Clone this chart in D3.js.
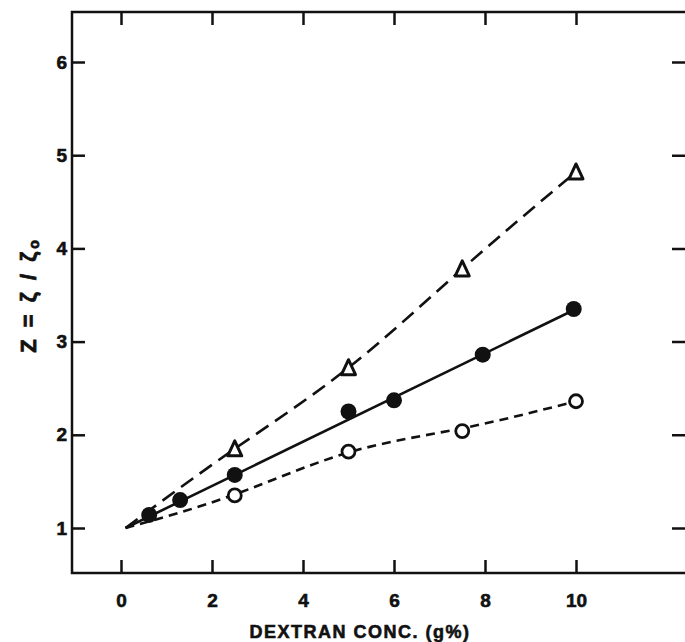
<!DOCTYPE html>
<html>
<head>
<meta charset="utf-8">
<script src="https://cdn.jsdelivr.net/npm/d3@7"></script>
<style>
  html, body { margin: 0; padding: 0; background: #fff; overflow: hidden; }
  svg { display: block; }
  text { font-family: "Liberation Sans", Arial, sans-serif; font-weight: bold; fill: #111; }
</style>
</head>
<body>
<svg id="chart" width="685" height="642"></svg>
<script>
// values
const xTicks = [0, 2, 4, 6, 8, 10];
const yTicks = [1, 2, 3, 4, 5, 6];

const triConc = [2.5, 5, 7.5, 10];
const triZ = [1.85, 2.72, 3.78, 4.82];

const filledConc = [0.62, 1.3, 2.5, 5, 6, 7.95, 9.95];
const filledZ = [1.14, 1.30, 1.57, 2.25, 2.37, 2.86, 3.35];

const openConc = [2.5, 5, 7.5, 10];
const openZ = [1.35, 1.82, 2.04, 2.36];

// drawn curves (all start from the common origin point)
const originPt = [0.1, 1.0];
const triCurve = [originPt, [2.5, 1.85], [5, 2.72], [7.5, 3.78], [10, 4.82]];
const solidFit = [originPt, [10, 3.35]];
const openCurve = [originPt, [2.5, 1.36], [5, 1.81], [7.5, 2.07], [10, 2.36]];

const svg = d3.select("#chart");
const frame = {left: 72, right: 705, top: 12, bottom: 573};

const x = d3.scaleLinear().domain([0, 10]).range([121, 576]);
const y = d3.scaleLinear().domain([1, 6]).range([528, 62]);

const ink = "#111";

// frame (right side falls off the picture)
svg.append("path")
    .attr("d", `M${frame.right},${frame.top}H${frame.left}V${frame.bottom}H${frame.right}`)
    .attr("fill", "none").attr("stroke", ink).attr("stroke-width", 2.5);

// axes with inward ticks
const tickLen = 13;
const gBottom = svg.append("g").attr("transform", `translate(0,${frame.bottom})`)
    .call(d3.axisBottom(x).tickValues(xTicks).tickFormat(d3.format("d"))
      .tickSize(-tickLen).tickPadding(tickLen + 8));
const gTop = svg.append("g").attr("transform", `translate(0,${frame.top})`)
    .call(d3.axisTop(x).tickValues(xTicks).tickSize(-tickLen).tickFormat(""));
const gLeft = svg.append("g").attr("transform", `translate(${frame.left},0)`)
    .call(d3.axisLeft(y).tickValues(yTicks).tickFormat(d3.format("d"))
      .tickSize(-tickLen).tickPadding(5));
const gRight = svg.append("g").attr("transform", `translate(${frame.right},0)`)
    .call(d3.axisRight(y).tickValues(yTicks).tickSize(-33).tickFormat(""));

[gBottom, gTop, gLeft, gRight].forEach(g => {
  g.select(".domain").remove();
  g.selectAll(".tick line").attr("stroke", ink).attr("stroke-width", 2.5);
  g.selectAll(".tick text")
      .style("font-size", "19px")
      .style("font-family", "'Liberation Sans', Arial, sans-serif")
      .style("font-weight", "bold")
      .attr("fill", ink)
      .attr("stroke", ink).attr("stroke-width", 0.6);
});

// axis titles
svg.append("text")
    .attr("x", 360).attr("y", 638)
    .attr("text-anchor", "middle")
    .attr("stroke", ink).attr("stroke-width", 0.6)
    .style("font-size", "18px")
    .style("letter-spacing", "1.5px")
    .text("DEXTRAN CONC. (g%)");

const yLab = svg.append("text")
    .attr("transform", "translate(36,295) rotate(-90)")
    .attr("text-anchor", "middle")
    .attr("stroke", ink).attr("stroke-width", 0.8)
    .style("font-size", "22px")
    .style("letter-spacing", "3px");
yLab.append("tspan").text("Z = ζ / ζ");
yLab.append("tspan").attr("dy", 3).style("font-size", "14px").text("o");

// curves
const line = d3.line().x(d => x(d[0])).y(d => y(d[1]));
const smooth = d3.line().x(d => x(d[0])).y(d => y(d[1])).curve(d3.curveNatural);

svg.append("path").attr("d", smooth(triCurve))
    .attr("fill", "none").attr("stroke", ink).attr("stroke-width", 2.6)
    .attr("stroke-dasharray", "15,8");
svg.append("path").attr("d", line(solidFit))
    .attr("fill", "none").attr("stroke", ink).attr("stroke-width", 2.6);
svg.append("path").attr("d", smooth(openCurve))
    .attr("fill", "none").attr("stroke", ink).attr("stroke-width", 2.6)
    .attr("stroke-dasharray", "9,6");

// markers
const triPts = d3.zip(triConc, triZ);
const filledPts = d3.zip(filledConc, filledZ);
const openPts = d3.zip(openConc, openZ);

svg.selectAll("path.tri").data(triPts).join("path")
    .attr("class", "tri")
    .attr("transform", d => `translate(${x(d[0])},${y(d[1])})`)
    .attr("d", "M0,-8L7,7L-7,7Z")
    .attr("fill", "#fff").attr("stroke", ink).attr("stroke-width", 3)
    .attr("stroke-linejoin", "round");

svg.selectAll("circle.filled").data(filledPts).join("circle")
    .attr("class", "filled")
    .attr("cx", d => x(d[0])).attr("cy", d => y(d[1]))
    .attr("r", 8).attr("fill", ink);

svg.selectAll("circle.open").data(openPts).join("circle")
    .attr("class", "open")
    .attr("cx", d => x(d[0])).attr("cy", d => y(d[1]))
    .attr("r", 6.5).attr("fill", "#fff").attr("stroke", ink).attr("stroke-width", 2.8);
</script>
</body>
</html>
